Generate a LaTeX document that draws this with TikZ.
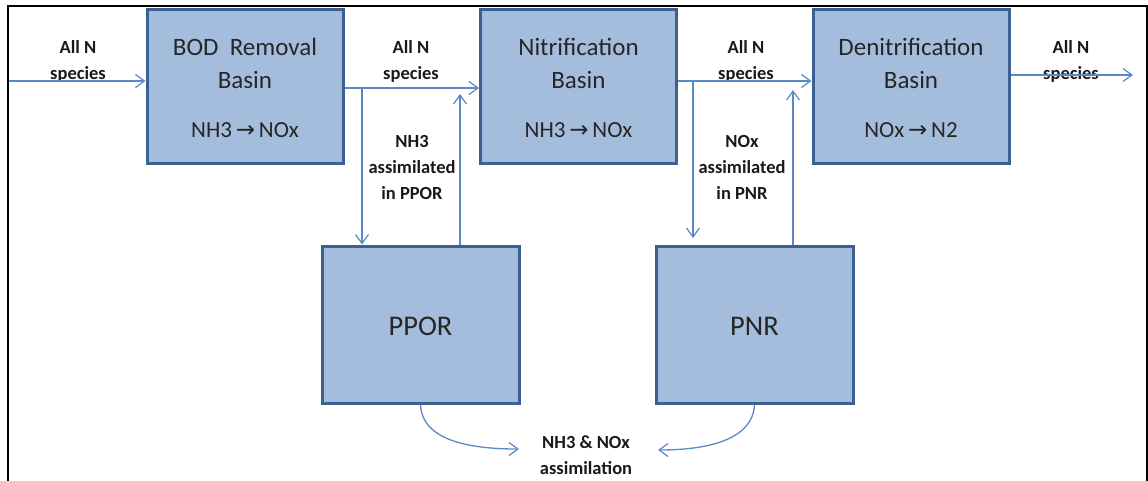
\documentclass[tikz,border=0pt]{standalone}
\usepackage{fontspec}
\setmainfont{Carlito}
\newfontfamily\arrowfont{DejaVu Sans}
\usetikzlibrary{arrows.meta,calc}
\definecolor{boxfill}{RGB}{165,189,220}
\definecolor{boxline}{RGB}{60,96,144}
\definecolor{flow}{RGB}{90,138,198}
\begin{document}
\begin{tikzpicture}[x=1pt,y=-1pt,
  basin/.style={draw=boxline, fill=boxfill, line width=3pt, minimum width=196pt, minimum height=154pt, inner sep=0pt},
  flowarr/.style={draw=flow, line width=1.3pt, -{Straight Barb[length=9pt,width=13pt,line width=1.2pt]}},
  lbl/.style={font=\fontsize{18.5}{26}\selectfont\bfseries, align=center, text=black!90, inner sep=0pt},
  title/.style={font=\fontsize{25}{33}\selectfont, align=center, text=black!85, inner sep=0pt},
  react/.style={font=\fontsize{23}{25}\selectfont, text=black!85, inner sep=0pt},
  big/.style={font=\fontsize{28.5}{34}\selectfont, text=black!85, inner sep=0pt}
]
\useasboundingbox (0,0) rectangle (1148,480);
% frame
\draw[line width=1.8pt] (7.8,482) -- (7.8,5.8) -- (1147.3,5.8) -- (1147.3,482);

% basins
\node[basin] (bod) at (245,86) {};
\node[basin] (nit) at (578.5,86) {};
\node[basin] (den) at (911,86) {};
\node[basin, minimum width=197pt, minimum height=157pt] (ppor) at (420.5,324.5) {};
\node[basin, minimum width=197pt, minimum height=157pt] (pnr) at (754.5,324.5) {};

% basin texts
\node[title] (bodt) at (245,63.5) {BOD\ \ Removal\\Basin};
\node[react] (bodr) at (245,130) {NH3\,{\arrowfont →}\,NOx};
\node[title] (nitt) at (578.5,63.5) {Nitrification\\Basin};
\node[react] (nitr) at (578.5,130) {NH3\,{\arrowfont →}\,NOx};
\node[title] (dent) at (911,63.5) {Denitrification\\Basin};
\node[react] (denr) at (911,130) {NOx\,{\arrowfont →}\,N2};
\node[big] (ppt) at (420.5,326) {PPOR};
\node[big] (pnt) at (754.5,326) {PNR};

% labels
\node[lbl] (l1) at (78,61) {All N\\species};
\node[lbl] (l2) at (411,61) {All N\\species};
\node[lbl] (l3) at (746,61) {All N\\species};
\node[lbl] (l4) at (1071,61) {All N\\species};
\node[lbl] (l5) at (412,167) {NH3\\assimilated\\in PPOR};
\node[lbl] (l6) at (742,167) {NOx\\assimilated\\in PNR};
\node[lbl] (l7) at (586,455) {NH3 \& NOx\\assimilation};

% coordinates
\coordinate (in) at (9,81);
\coordinate (out) at (1133,75);
\coordinate (j1) at (362,88);
\coordinate (u1) at (460,94);
\coordinate (j2) at (693,81);
\coordinate (d2) at (693,238);
\coordinate (u2) at (793,90);
\coordinate (e1) at (519,449);
\coordinate (e2) at (658,450);

% main flow
\draw[flowarr] (in) -- (in -| bod.west);
\draw[flowarr] (bod.east |- j1) -- (nit.west |- j1);
\draw[flowarr] (nit.east |- j2) -- (den.west |- j2);
\draw[flowarr] (den.east |- out) -- (out);

% branches
\draw[flowarr] (j1) -- (j1 |- ppor.north);
\draw[flowarr] (u1 |- ppor.north) -- (u1);
\draw[flowarr] (j2) -- (d2);
\draw[flowarr] (u2 |- pnr.north) -- (u2);

% assimilation curves
\draw[flowarr] (ppor.south) .. controls (422,440) and (468,449) .. (e1);
\draw[flowarr] (pnr.south) .. controls (753,440) and (707,450) .. (e2);
\end{tikzpicture}
\end{document}
